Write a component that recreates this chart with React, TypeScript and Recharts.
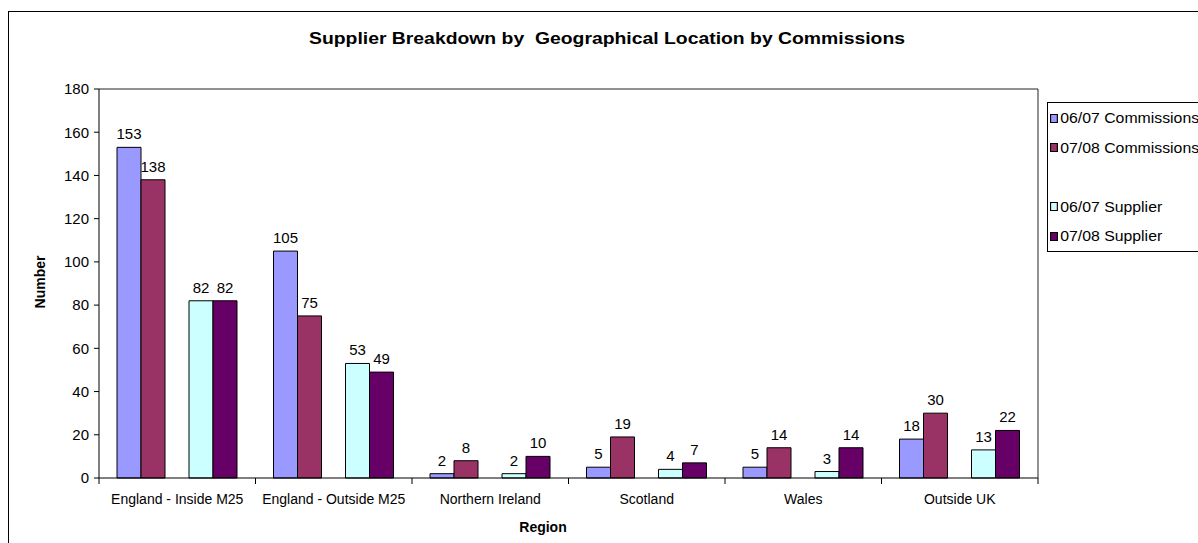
import { BarChart, Bar, XAxis, YAxis, LabelList } from "recharts";

const regions = [
  "England - Inside M25",
  "England - Outside M25",
  "Northern Ireland",
  "Scotland",
  "Wales",
  "Outside UK",
];
const commissions0607 = [153, 105, 2, 5, 5, 18];
const commissions0708 = [138, 75, 8, 19, 14, 30];
const supplier0607 = [82, 53, 2, 4, 3, 13];
const supplier0708 = [82, 49, 10, 7, 14, 22];
const yTicks = [0, 20, 40, 60, 80, 100, 120, 140, 160, 180];

const series = [
  { key: "c0607", name: "06/07 Commissions", color: "#9999FF" },
  { key: "c0708", name: "07/08 Commissions", color: "#993366" },
  { key: "blank", name: "", color: "" },
  { key: "s0607", name: "06/07 Supplier", color: "#CCFFFF" },
  { key: "s0708", name: "07/08 Supplier", color: "#660066" },
];

const data = regions.map((region, i) => ({
  region,
  c0607: commissions0607[i],
  c0708: commissions0708[i],
  s0607: supplier0607[i],
  s0708: supplier0708[i],
}));

const W = 1198;
const H = 543;
const margin = { top: 88, right: 159, bottom: 20, left: 39 };
const yAxisW = 60;
const bandW = (W - margin.left - margin.right - yAxisW - 1) / regions.length;
const TICK_SIZE = 6;
const TICK_MARGIN = 10;

const font = "'Liberation Sans', Arial, sans-serif";

// Excel puts the category tick marks on the boundaries, not under the labels
function CategoryTick(props: any) {
  const { x, y, payload, index } = props;
  const axisY = y - TICK_SIZE - TICK_MARGIN;
  const left = x - bandW / 2;
  const right = x + bandW / 2;
  return (
    <g>
      <line x1={left} x2={left} y1={axisY} y2={axisY + 6} stroke="#000" />
      {index === regions.length - 1 && (
        <line x1={right} x2={right} y1={axisY} y2={axisY + 6} stroke="#000" />
      )}
      <text
        x={x}
        y={y}
        dy="0.71em"
        textAnchor="middle"
        fontSize={14}
        fill="#000"
      >
        {payload.value}
      </text>
    </g>
  );
}

export default function App() {
  return (
    <div
      style={{
        position: "fixed",
        left: 0,
        top: 0,
        width: W,
        height: H,
        overflow: "hidden",
        background: "#fff",
        fontFamily: font,
      }}
    >
      {/* chart frame runs off the right and bottom edge, like the cropped original */}
      <div
        style={{
          position: "absolute",
          left: 8,
          top: 11,
          width: 1300,
          height: 600,
          border: "1px solid #000",
        }}
      />
      <div
        style={{
          position: "absolute",
          left: 607,
          top: 31,
          transform: "translateX(-50%) scaleX(1.21)",
          whiteSpace: "nowrap",
          fontSize: 16,
          lineHeight: "16px",
          fontWeight: "bold",
        }}
      >
        Supplier Breakdown by&nbsp; Geographical Location by Commissions
      </div>
      <div
        style={{
          position: "absolute",
          left: 40,
          top: 282,
          transform: "translate(-50%, -50%) rotate(-90deg)",
          fontSize: 14,
          fontWeight: "bold",
          whiteSpace: "nowrap",
        }}
      >
        Number
      </div>
      <div
        style={{
          position: "absolute",
          left: 543,
          top: 521,
          transform: "translateX(-50%)",
          fontSize: 14,
          lineHeight: "13px",
          fontWeight: "bold",
        }}
      >
        Region
      </div>

      <BarChart
        width={W}
        height={H}
        data={data}
        margin={margin}
        barCategoryGap={18}
        barGap={0}
        style={{ position: "absolute", left: 0, top: 0 }}
      >
        <XAxis
          dataKey="region"
          interval={0}
          height={45}
          tickLine={false}
          tickSize={TICK_SIZE}
          tickMargin={TICK_MARGIN}
          axisLine={{ stroke: "#000" }}
          tick={<CategoryTick />}
        />
        <XAxis
          xAxisId="top"
          orientation="top"
          dataKey="region"
          height={1}
          tick={false}
          tickLine={false}
          axisLine={{ stroke: "#222" }}
        />
        <YAxis
          domain={[0, 180]}
          ticks={yTicks}
          width={yAxisW}
          tickSize={5}
          tickMargin={5}
          tickLine={{ stroke: "#000" }}
          axisLine={{ stroke: "#000" }}
          tick={{ fontSize: 15, fill: "#000" }}
        />
        <YAxis
          yAxisId="right"
          orientation="right"
          width={1}
          tick={false}
          tickLine={false}
          axisLine={{ stroke: "#222" }}
        />
        {series.map((s) => (
          <Bar
            key={s.key}
            dataKey={s.key}
            name={s.name}
            fill={s.color || "transparent"}
            stroke={s.color ? "#000" : "none"}
            strokeWidth={1}
            isAnimationActive={false}
          >
            {s.color && (
              <LabelList
                dataKey={s.key}
                position="top"
                offset={8}
                fill="#000"
                fontSize={15}
              />
            )}
          </Bar>
        ))}
      </BarChart>

      <div
        style={{
          position: "absolute",
          left: 1047,
          top: 102,
          width: 220,
          height: 148,
          border: "1px solid #000",
          background: "#fff",
        }}
      >
        {series.map((s, i) =>
          s.color ? (
            <div
              key={s.key}
              style={{
                position: "absolute",
                left: 2,
                top: 15 + i * 29.5,
                transform: "translateY(-50%) scaleX(1.13)",
                transformOrigin: "left center",
                display: "flex",
                alignItems: "center",
                fontSize: 14,
                whiteSpace: "nowrap",
              }}
            >
              <span
                style={{
                  display: "inline-block",
                  width: 5,
                  height: 7,
                  background: s.color,
                  border: "1px solid #000",
                  marginRight: 2,
                }}
              />
              {s.name}
            </div>
          ) : null
        )}
      </div>
    </div>
  );
}
